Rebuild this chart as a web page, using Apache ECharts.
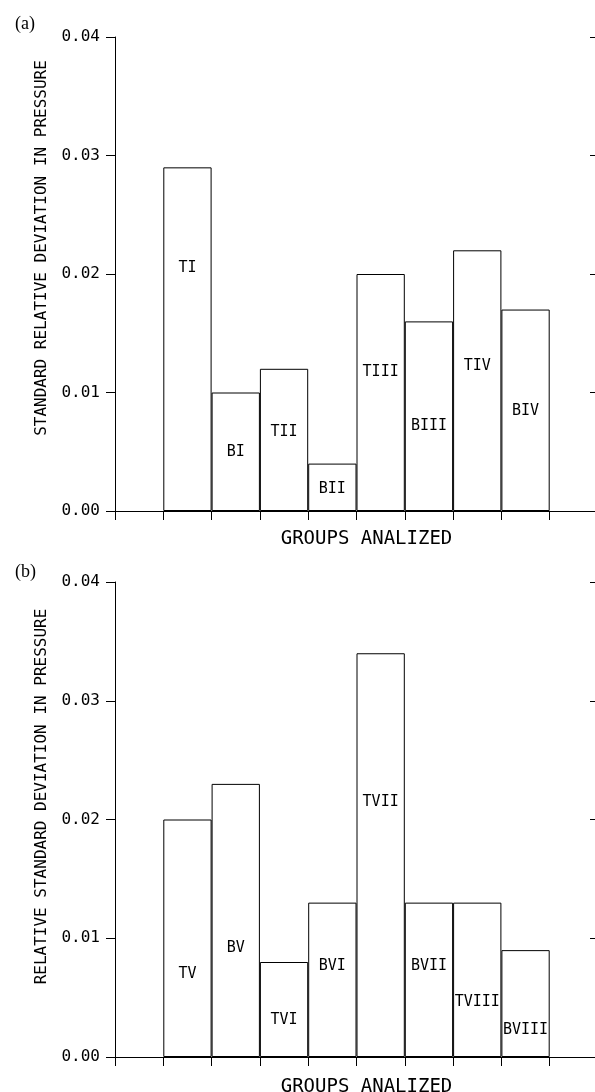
<!DOCTYPE html>
<html>
<head>
<meta charset="utf-8">
<script src="https://cdn.jsdelivr.net/npm/echarts@6/dist/echarts.min.js"></script>
<style>
  html, body { margin: 0; padding: 0; background: #fff; }
  #chart { width: 595px; height: 1092px; }
</style>
</head>
<body>
<div id="chart"></div>
<script>
// panel (a)
const groupsA = ['TI', 'BI', 'TII', 'BII', 'TIII', 'BIII', 'TIV', 'BIV'];
const valuesA = [0.029, 0.010, 0.012, 0.004, 0.020, 0.016, 0.022, 0.017];
// panel (b)
const groupsB = ['TV', 'BV', 'TVI', 'BVI', 'TVII', 'BVII', 'TVIII', 'BVIII'];
const valuesB = [0.020, 0.023, 0.008, 0.013, 0.034, 0.013, 0.013, 0.009];
const yTicks = [0, 0.01, 0.02, 0.03, 0.04];

// where the group names sit inside the bars (px from bar centre)
const shiftA = [-71, 0, -8, 2, -20, 10, -15, 1];
const shiftB = [36, 28, 11, -14, -53, -14, 22, 27];

const mono = 'DejaVu Sans Mono';
const ink = '#000';

function cats(groups) {
  return [''].concat(groups, [' ']);
}

function barData(values, shift) {
  let d = values.map((v, i) => ({ value: v, label: { offset: [0, shift[i]] } }));
  return ['-'].concat(d, ['-']);
}

function xAxes(groups, gi, gap) {
  return [
    {
      type: 'category', gridIndex: gi, position: 'bottom', data: cats(groups),
      axisLine: { lineStyle: { color: ink, width: 1 } },
      axisTick: { show: true, length: 9, lineStyle: { color: ink } },
      axisLabel: { show: false },
      name: 'GROUPS ANALIZED', nameLocation: 'middle', nameGap: gap,
      nameTextStyle: { fontFamily: mono, fontSize: 19, color: ink, padding: [0, 0, 0, 20] }
    },
    {
      type: 'category', gridIndex: gi, position: 'top', data: cats(groups),
      axisLine: { lineStyle: { color: ink, width: 1 } },
      axisTick: { show: true, inside: true, length: 8, lineStyle: { color: ink } },
      axisLabel: { show: false }
    }
  ];
}

function yAxes(title, gi, shiftUp) {
  return [
    {
      type: 'value', gridIndex: gi, position: 'left', min: yTicks[0], max: yTicks[yTicks.length - 1], interval: 0.01,
      axisLine: { show: true, lineStyle: { color: ink, width: 1 } },
      axisTick: { show: true, length: 9, lineStyle: { color: ink } },
      splitLine: { show: false },
      axisLabel: { margin: 15, fontFamily: mono, fontSize: 16, color: ink, formatter: v => v.toFixed(2) },
      name: title, nameLocation: 'middle', nameGap: 65,
      nameTextStyle: { fontFamily: mono, fontSize: 16, color: ink, padding: [0, 0, 0, shiftUp * 2] }
    },
    {
      type: 'value', gridIndex: gi, position: 'right', min: yTicks[0], max: yTicks[yTicks.length - 1], interval: 0.01,
      axisLine: { show: true, lineStyle: { color: ink, width: 1 } },
      axisTick: { show: true, inside: true, length: 8, lineStyle: { color: ink } },
      splitLine: { show: false },
      axisLabel: { show: false }
    }
  ];
}

function barSeries(values, shift, gi) {
  return {
    type: 'bar', xAxisIndex: gi * 2, yAxisIndex: gi * 2,
    data: barData(values, shift),
    barCategoryGap: '0%',
    itemStyle: { color: '#fff', borderColor: ink, borderWidth: 1 },
    label: {
      show: true, position: 'inside', color: ink, fontFamily: mono, fontSize: 15,
      formatter: p => p.name
    },
    emphasis: { disabled: true },
    silent: true
  };
}

let chart = echarts.init(document.getElementById('chart'), null, { renderer: 'canvas' });

let option = {
  animation: false,
  backgroundColor: '#fff',
  title: [
    { text: '(a)', left: 10, top: 10, textStyle: { fontFamily: 'Liberation Serif', fontSize: 18, fontWeight: 'normal', color: ink } },
    { text: '(b)', left: 10, top: 558, textStyle: { fontFamily: 'Liberation Serif', fontSize: 18, fontWeight: 'normal', color: ink } }
  ],
  grid: [
    { left: 115, top: 37, width: 483, height: 474, outerBoundsMode: 'none' },
    { left: 115, top: 582, width: 483, height: 475, outerBoundsMode: 'none' }
  ],
  xAxis: xAxes(groupsA, 0, 19).concat(xAxes(groupsB, 1, 21)),
  yAxis: yAxes('STANDARD RELATIVE DEVIATION IN PRESSURE', 0, 26)
    .concat(yAxes('RELATIVE STANDARD DEVIATION IN PRESSURE', 1, 23)),
  series: [
    barSeries(valuesA, shiftA, 0),
    barSeries(valuesB, shiftB, 1)
  ]
};

chart.setOption(option);
</script>
</body>
</html>
